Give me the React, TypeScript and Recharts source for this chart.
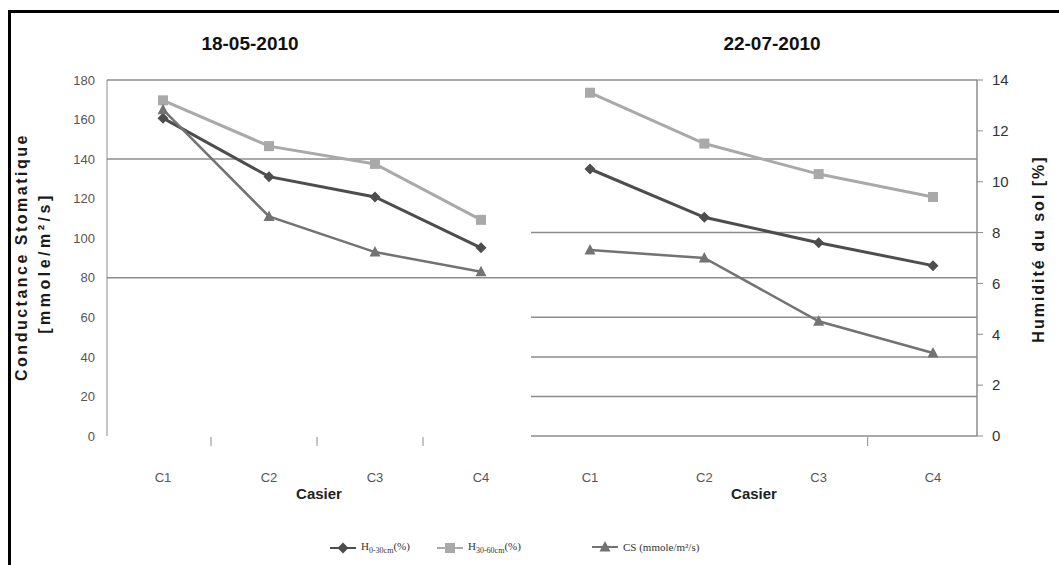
import React from "react";
import { LineChart, Line, XAxis, YAxis, ReferenceLine } from "recharts";

const categories = ["C1", "C2", "C3", "C4"];

// 18-05-2010
const mayH030 = [12.5, 10.2, 9.4, 7.4];
const mayH3060 = [13.2, 11.4, 10.7, 8.5];
const mayCS = [165, 111, 93, 83];

// 22-07-2010
const julH030 = [10.5, 8.6, 7.6, 6.7];
const julH3060 = [13.5, 11.5, 10.3, 9.4];
const julCS = [94, 90, 58, 42];

const csTicks = [0, 20, 40, 60, 80, 100, 120, 140, 160, 180];
const hTicks = [0, 2, 4, 6, 8, 10, 12, 14];
const sharedGrid = [80, 140, 180];
const julyGridCS = [0, 20, 40, 60];
const julyGridH = [8];

const DARK = "#4d4d4d";
const LIGHT = "#a9a9a9";
const MID = "#737373";
const GRID = "#8c8c8c";
const FONT = "'Liberation Sans', Arial, sans-serif";

const mayData = categories.map((c, i) => ({ casier: c, h030: mayH030[i], h3060: mayH3060[i], cs: mayCS[i] }));
const julData = categories.map((c, i) => ({ casier: c, h030: julH030[i], h3060: julH3060[i], cs: julCS[i] }));

const diamond = (cx: number, cy: number, color: string) => {
  const r = 5.5;
  return <path d={`M${cx},${cy - r}L${cx + r},${cy}L${cx},${cy + r}L${cx - r},${cy}Z`} fill={color} />;
};
const square = (cx: number, cy: number, color: string) => (
  <rect x={cx - 5} y={cy - 5} width={10} height={10} fill={color} />
);
const triangle = (cx: number, cy: number, color: string) => (
  <path d={`M${cx},${cy - 6}L${cx + 5.5},${cy + 4.5}L${cx - 5.5},${cy + 4.5}Z`} fill={color} />
);

const series = [
  { key: "h030", axis: "h", color: DARK, width: 3, shape: diamond, sub: "0-30cm", name: "H", tail: "(%)" },
  { key: "h3060", axis: "h", color: LIGHT, width: 3, shape: square, sub: "30-60cm", name: "H", tail: "(%)" },
  { key: "cs", axis: "cs", color: MID, width: 2.5, shape: triangle, sub: "", name: "CS (mmole/m²/s)", tail: "" },
];
const legendLeft = [328, 435, 590];

const dotFor = (s: (typeof series)[number]) => (p: any) =>
  p.cx == null ? null : <g key={`${s.key}-${p.index}`}>{s.shape(p.cx, p.cy, s.color)}</g>;

const makeTick = (half: number, marks: number[]) => (p: any) => (
  <g>
    <text x={p.x} y={p.y + 46} textAnchor="middle" fontSize={13} fill="#555" fontFamily={FONT}>
      {p.payload.value}
    </text>
    {marks.includes(p.index) && (
      <line x1={p.x + half} x2={p.x + half} y1={p.y + 1} y2={p.y + 10} stroke={GRID} />
    )}
  </g>
);

const casierLabel = {
  value: "Casier",
  position: "bottom" as const,
  offset: 22,
  fill: "#222",
  fontSize: 15,
  fontWeight: 700,
  fontFamily: FONT,
};

const lines = () =>
  series.map((s) => (
    <Line
      key={s.key}
      yAxisId={s.axis}
      dataKey={s.key}
      stroke={s.color}
      strokeWidth={s.width}
      dot={dotFor(s)}
      activeDot={false}
      isAnimationActive={false}
    />
  ));

const rotated = (text: string, cx: number, cy: number, style: React.CSSProperties) => (
  <div
    style={{
      position: "absolute",
      left: cx - 200,
      top: cy - 10,
      width: 400,
      height: 20,
      lineHeight: "20px",
      textAlign: "center",
      transform: "rotate(-90deg)",
      fontFamily: FONT,
      fontWeight: 700,
      color: "#1a1a1a",
      whiteSpace: "nowrap",
      ...style,
    }}
  >
    {text}
  </div>
);

export default function App() {
  return (
    <div style={{ position: "absolute", left: 0, top: 0, width: 1059, height: 565, overflow: "hidden", background: "#fff" }}>
      <div style={{ position: "absolute", left: 8, top: 10, width: 1200, height: 700, border: "3px solid #000" }} />

      <div style={{ position: "absolute", left: 0, top: 0 }}>
        <LineChart width={560} height={565} data={mayData} margin={{ top: 80, right: 29, bottom: 99, left: 47 }}>
          <XAxis
            dataKey="casier"
            interval={0}
            axisLine={false}
            tickSize={0}
            tickMargin={0}
            height={30}
            padding={{ left: 56, right: 50 }}
            tick={makeTick(48, [0, 1, 2])}
            label={casierLabel}
          />
          <YAxis
            yAxisId="cs"
            domain={[0, 180]}
            ticks={csTicks}
            interval={0}
            width={60}
            axisLine={{ stroke: GRID }}
            tickLine={false}
            tickMargin={6}
            tick={{ fill: "#555", fontSize: 13, fontFamily: FONT }}
          />
          <YAxis yAxisId="h" orientation="right" domain={[0, 14]} hide />
          {sharedGrid.map((v) => (
            <ReferenceLine key={v} yAxisId="cs" y={v} stroke={GRID} strokeWidth={1.5} />
          ))}
          {lines()}
        </LineChart>
      </div>

      <div style={{ position: "absolute", left: 480, top: 0 }}>
        <LineChart width={579} height={565} data={julData} margin={{ top: 80, right: 32, bottom: 99, left: 51 }}>
          <XAxis
            dataKey="casier"
            interval={0}
            axisLine={false}
            tickSize={0}
            tickMargin={0}
            height={30}
            padding={{ left: 59, right: 44 }}
            tick={makeTick(49, [2])}
            label={casierLabel}
          />
          <YAxis yAxisId="cs" domain={[0, 180]} hide />
          <YAxis
            yAxisId="h"
            orientation="right"
            domain={[0, 14]}
            ticks={hTicks}
            interval={0}
            width={50}
            axisLine={{ stroke: GRID, strokeWidth: 1.5 }}
            tickLine={{ stroke: GRID }}
            tickSize={6}
            tickMargin={9}
            tick={{ fill: "#333", fontSize: 15, fontFamily: FONT, textAnchor: "start" }}
          />
          {[...sharedGrid, ...julyGridCS].map((v) => (
            <ReferenceLine key={`c${v}`} yAxisId="cs" y={v} stroke={GRID} strokeWidth={1.5} />
          ))}
          {julyGridH.map((v) => (
            <ReferenceLine key={`h${v}`} yAxisId="h" y={v} stroke={GRID} strokeWidth={1.5} />
          ))}
          {lines()}
        </LineChart>
      </div>

      <div style={{ position: "absolute", left: 150, top: 33, width: 200, textAlign: "center", fontFamily: FONT, fontWeight: 700, fontSize: 19, color: "#111" }}>
        18-05-2010
      </div>
      <div style={{ position: "absolute", left: 672, top: 33, width: 200, textAlign: "center", fontFamily: FONT, fontWeight: 700, fontSize: 19, color: "#111" }}>
        22-07-2010
      </div>

      {rotated("Conductance Stomatique", 22, 257, { fontSize: 16, letterSpacing: 2.5 })}
      {rotated("[mmole/m²/s]", 45, 263, { fontSize: 16, letterSpacing: 3.5 })}
      {rotated("Humidité du sol [%]", 1039, 249, { fontSize: 16, letterSpacing: 2 })}

      {series.map((s, i) => (
        <div
          key={s.key}
          style={{
            position: "absolute",
            left: legendLeft[i],
            top: 540,
            display: "flex",
            alignItems: "center",
            fontFamily: "'Liberation Serif', serif",
            fontSize: 11,
            color: "#333",
            whiteSpace: "nowrap",
          }}
        >
          <svg width={30} height={14}>
            <line x1={2} x2={28} y1={7} y2={7} stroke={s.color} strokeWidth={2} />
            {s.shape(15, 7, s.color)}
          </svg>
          <span style={{ marginLeft: 3 }}>
            {s.name}
            {s.sub && <sub style={{ fontSize: 8 }}>{s.sub}</sub>}
            {s.tail}
          </span>
        </div>
      ))}
    </div>
  );
}
